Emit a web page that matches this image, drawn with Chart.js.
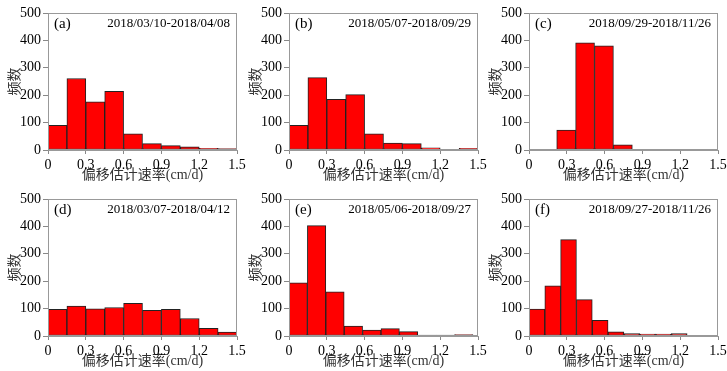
<!DOCTYPE html>
<html>
<head>
<meta charset="utf-8">
<script src="https://cdn.jsdelivr.net/npm/chart.js@4.4.1/dist/chart.umd.min.js"></script>
<style>
  body { margin: 0; background: #fff; width: 727px; height: 371px; position: relative; overflow: hidden; }
  .panel { position: absolute; width: 246px; height: 185px; }
</style>
</head>
<body>
<div class="panel" style="left:0px;top:0px"><canvas id="chartA" width="246" height="185"></canvas></div>
<div class="panel" style="left:241px;top:0px"><canvas id="chartB" width="246" height="185"></canvas></div>
<div class="panel" style="left:481px;top:0px"><canvas id="chartC" width="246" height="185"></canvas></div>
<div class="panel" style="left:0px;top:186px"><canvas id="chartD" width="246" height="185"></canvas></div>
<div class="panel" style="left:241px;top:186px"><canvas id="chartE" width="246" height="185"></canvas></div>
<div class="panel" style="left:481px;top:186px"><canvas id="chartF" width="246" height="185"></canvas></div>

<script>
// bin edges (cm/d) and counts
const edgesA = [0, 0.15, 0.3, 0.45, 0.6, 0.75, 0.9, 1.05, 1.2, 1.35, 1.5];
const countsA = [90, 261, 176, 214, 59, 23, 16, 12, 6, 5];

const edgesB = [0, 0.15, 0.3, 0.45, 0.6, 0.75, 0.9, 1.05, 1.2, 1.35, 1.5];
const countsB = [90, 264, 185, 202, 59, 25, 23, 8, 2, 6];

const edgesC = [0.22, 0.37, 0.52, 0.67, 0.82];
const countsC = [73, 391, 380, 19];

const edgesD = [0, 0.15, 0.3, 0.45, 0.6, 0.75, 0.9, 1.05, 1.2, 1.35, 1.5];
const countsD = [97, 109, 99, 104, 119, 94, 97, 64, 28, 14];

const edgesE = [0, 0.146, 0.292, 0.438, 0.584, 0.73, 0.876, 1.022, 1.168, 1.314, 1.46];
const countsE = [194, 403, 161, 36, 22, 27, 16, 3, 3, 5];

const edgesF = [0, 0.1255, 0.251, 0.3765, 0.502, 0.6275, 0.753, 0.8785, 1.004, 1.1295, 1.255];
const countsF = [98, 183, 352, 133, 57, 15, 9, 7, 7, 9];

const panelTags = ['(a)', '(b)', '(c)', '(d)', '(e)', '(f)'];
const dateRanges = [
  '2018/03/10-2018/04/08',
  '2018/05/07-2018/09/29',
  '2018/09/29-2018/11/26',
  '2018/03/07-2018/04/12',
  '2018/05/06-2018/09/27',
  '2018/09/27-2018/11/26'
];

const xTicks = [0, 0.3, 0.6, 0.9, 1.2, 1.5];
const yTicks = [0, 100, 200, 300, 400, 500];
const xTitle = '偏移估计速率(cm/d)';
const yTitle = '频数';

const serif = '"Liberation Serif", "Noto Sans CJK SC", serif';

// frame round the plot + tag and date text
const panelText = {
  id: 'panelText',
  afterDatasetsDraw(chart, args, opts) {
    const ctx = chart.ctx;
    const a = chart.chartArea;
    ctx.save();
    ctx.strokeStyle = '#999';
    ctx.lineWidth = 1;
    ctx.strokeRect(Math.round(a.left) + 0.5, Math.round(a.top) + 0.5,
      Math.round(a.right - a.left) - 1, Math.round(a.bottom - a.top) - 1);
    ctx.fillStyle = '#000';
    ctx.textBaseline = 'middle';
    ctx.font = '15px ' + serif;
    ctx.textAlign = 'left';
    ctx.fillText(opts.tag, a.left + 6, a.top + 11);
    ctx.font = '13px ' + serif;
    ctx.textAlign = 'right';
    ctx.fillText(opts.date, a.right - 7, a.top + 11);
    ctx.restore();
  }
};

function makeHist(id, edges, counts, i) {
  let points = [];
  for (let k = 0; k < counts.length; k++) {
    points.push({ x: (edges[k] + edges[k + 1]) / 2, y: counts[k] });
  }

  new Chart(document.getElementById(id), {
    type: 'bar',
    data: {
      datasets: [{
        data: points,
        backgroundColor: '#ff0000',
        borderColor: '#222',
        borderWidth: 1,
        borderSkipped: false,
        barPercentage: 1,
        categoryPercentage: 1
      }]
    },
    options: {
      responsive: false,
      animation: false,
      events: [],
      layout: { padding: { top: 13, right: 9, left: 0, bottom: 0 } },
      plugins: {
        legend: { display: false },
        tooltip: { enabled: false },
        panelText: { tag: panelTags[i], date: dateRanges[i] }
      },
      scales: {
        x: {
          type: 'linear',
          min: 0,
          max: 1.5,
          offset: false,
          afterBuildTicks: s => { s.ticks = xTicks.map(v => ({ value: v })); },
          afterFit: s => { s.height = 35; s.paddingLeft = 0; s.paddingRight = 0; },
          grid: { offset: false, drawOnChartArea: false, drawTicks: true, tickLength: 4, color: '#888' },
          border: { display: true, color: '#999' },
          ticks: {
            padding: 3,
            maxRotation: 0,
            color: '#000',
            font: { family: serif, size: 14 },
            callback: v => v === 0 ? '0' : v.toFixed(1)
          },
          title: {
            display: true,
            text: xTitle,
            color: '#333',
            font: { family: serif, size: 14 },
            padding: { top: 0, bottom: 1 }
          }
        },
        y: {
          min: 0,
          max: 500,
          afterBuildTicks: s => { s.ticks = yTicks.map(v => ({ value: v })); },
          afterFit: s => { s.width = 48; s.paddingTop = 0; s.paddingBottom = 0; },
          grid: { drawOnChartArea: false, drawTicks: true, tickLength: 5, color: '#888' },
          border: { display: true, color: '#999' },
          ticks: {
            padding: 2,
            color: '#000',
            font: { family: serif, size: 14 }
          },
          title: {
            display: true,
            text: yTitle,
            color: '#333',
            font: { family: serif, size: 14 },
            padding: { top: 7, bottom: 0 }
          }
        }
      }
    },
    plugins: [panelText]
  });
}

makeHist('chartA', edgesA, countsA, 0);
makeHist('chartB', edgesB, countsB, 1);
makeHist('chartC', edgesC, countsC, 2);
makeHist('chartD', edgesD, countsD, 3);
makeHist('chartE', edgesE, countsE, 4);
makeHist('chartF', edgesF, countsF, 5);
</script>
</body>
</html>
